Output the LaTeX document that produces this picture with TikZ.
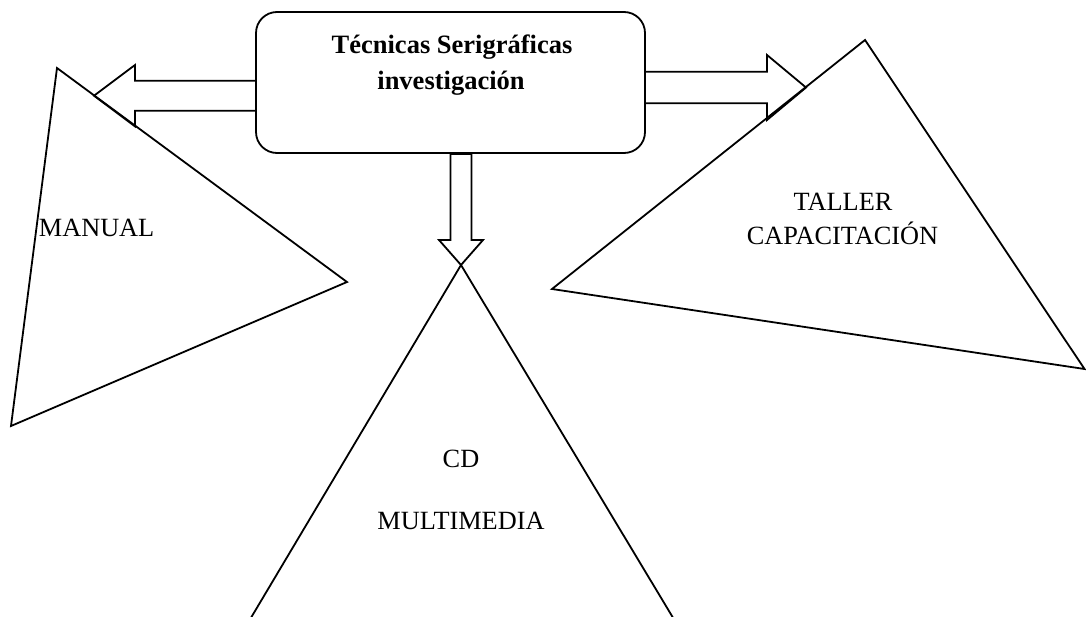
\documentclass[tikz,border=0pt]{standalone}
\usepackage{fontspec}
\setmainfont{Liberation Serif}
\usetikzlibrary{calc}
\begin{document}
\begin{tikzpicture}[x=1pt,y=-1pt, line width=1.8pt, line join=miter,
  lbl/.style={font=\fontsize{26.3}{30}\selectfont, anchor=base, inner sep=0pt},
  ttl/.style={font=\fontsize{26.5}{30}\selectfont\bfseries, anchor=base, inner sep=0pt},
  outl/.style={draw=black, line width=1.8pt}]
\useasboundingbox (0,0) rectangle (1086,616);
\clip (0,0) rectangle (1086,616);
% central box
\node[outl, rounded corners=21pt, minimum width=389pt, minimum height=141pt, inner sep=0pt] (box) at (450.5,82.5) {};
\node[ttl] (t1) at (452,53) {Técnicas Serigráficas};
\node[ttl] (t2) at (451,89) {investigación};
% triangles
\coordinate (mA) at (57,68);
\coordinate (mB) at (347,282);
\coordinate (mC) at (11,426);
\draw[outl] (mA) -- (mB) -- (mC) -- cycle;
\coordinate (tA) at (865,40);
\coordinate (tB) at (1084.5,369);
\coordinate (tC) at (552,289);
\draw[outl] (tA) -- (tB) -- (tC) -- cycle;
\coordinate (cA) at (461,265);
\coordinate (cB) at (680.4,630);
\coordinate (cC) at (243.7,630);
\draw[outl] (cA) -- (cB) -- (cC) -- cycle;
% block arrows
\coordinate (mTip) at (94,95.7);
\draw[outl] ($(box.west |- mTip)+(0,-15)$) -- (135,80.7) -- (135,65) -- (mTip)
  -- (135,126.4) -- (135,110.7) -- ($(box.west |- mTip)+(0,15)$);
\coordinate (tTip) at (806,87.5);
\draw[outl] ($(box.east |- tTip)+(0,-15.8)$) -- (767,71.7) -- (767,55) -- (tTip)
  -- (767,120) -- (767,103.3) -- ($(box.east |- tTip)+(0,15.8)$);
\draw[outl] ($(box.south -| cA)+(-10.5,0)$) -- (450.5,240) -- (439,240) -- (cA)
  -- (483,240) -- (471.5,240) -- ($(box.south -| cA)+(10.5,0)$) -- cycle;
% labels
\node[lbl, anchor=base west] (manual) at (38,236) {MANUAL};
\node[lbl] (taller) at (843,210) {TALLER};
\node[lbl] (capac) at (842.5,244.5) {CAPACITACIÓN};
\node[lbl] (cd) at (461,467) {CD};
\node[lbl] (multi) at (461,529) {MULTIMEDIA};
\end{tikzpicture}
\end{document}
